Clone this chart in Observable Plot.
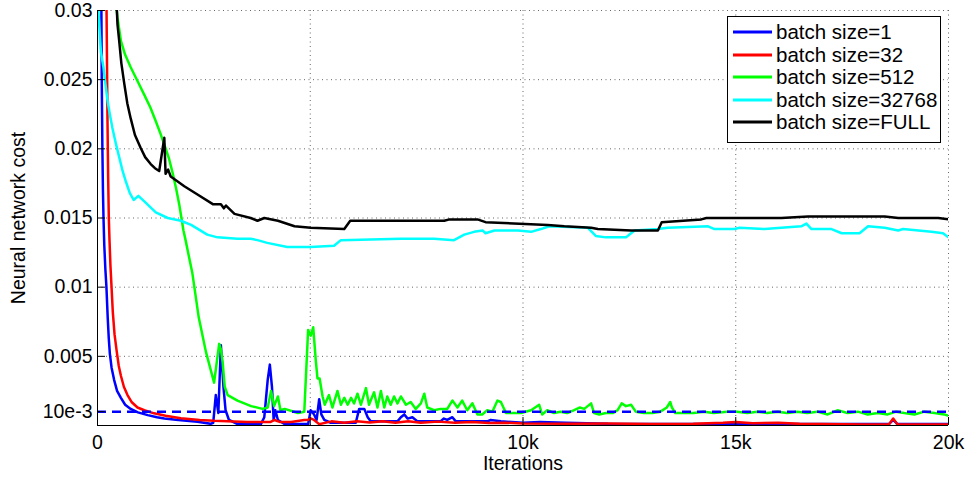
<!DOCTYPE html>
<html>
<head>
<meta charset="utf-8">
<script src="https://cdn.jsdelivr.net/npm/d3@7"></script>
<script src="https://cdn.jsdelivr.net/npm/@observablehq/plot@0.6"></script>
<style>
  body { margin: 0; background: #fff; }
  #wrap { position: relative; width: 968px; height: 479px; font-family: "Liberation Sans", Arial, Helvetica, sans-serif; }
  #legend { position: absolute; left: 727px; top: 16px; width: 214px; height: 127px; border: 1px solid #000; background: #fff; box-sizing: border-box; }
  .row { position: absolute; left: 0; height: 22px; line-height: 22px; display: flex; align-items: center; font-size: 20.5px; color: #000; white-space: nowrap; }
  .row svg { margin-left: 5px; margin-right: 4px; }
</style>
</head>
<body>
<div id="wrap"></div>
<script>
// ---- data (iterations, neural network cost) ----
const seriesNames = ["batch size=1", "batch size=32", "batch size=512", "batch size=32768", "batch size=FULL"];
const seriesColors = ["#0000ff", "#ff0000", "#00ff00", "#00ffff", "#000000"];

const bs1 = [[90,0.031],[100,0.025],[115,0.02],[128,0.017],[141,0.015],[160,0.013],[185,0.0113],[210,0.01],[240,0.0078],[265,0.0063],[290,0.0052],[330,0.0042],[390,0.0033],[460,0.0025],[550,0.002],[650,0.0015],[780,0.0012],[950,0.00095],[1180,0.00075],[1400,0.0006],[1570,0.0005],[1900,0.0004],[2350,0.00027],[2660,0.00012],[2720,0.0002],[2780,0.0022],[2840,0.0009],[2900,0.0058],[2960,0.0028],[3010,0.0011],[3090,0.0004],[3290,0.0001],[3840,0.0001],[3920,0.0006],[4000,0.0033],[4050,0.0044],[4100,0.0028],[4140,0.0004],[4180,0.0011],[4240,0.0004],[4400,0.0001],[4950,0.0001],[5010,0.0011],[5090,0.0008],[5150,0.0004],[5210,0.0019],[5260,0.0008],[5330,0.0004],[5480,0.0002],[6070,0.0002],[6150,0.0012],[6270,0.0012],[6350,0.0006],[6420,0.0003],[7050,0.0003],[7130,0.0006],[7210,0.0008],[7290,0.0005],[7400,0.0006],[7520,0.0003],[8060,0.0003],[8140,0.0005],[8220,0.0004],[8340,0.0006],[8420,0.0003],[9160,0.0003],[9240,0.0004],[9480,0.0003],[10000,0.0002],[10400,0.00025],[11000,0.0002],[12000,0.00012],[14000,0.0001],[16000,0.0001],[18600,0.0001],[18700,0.0004],[18800,0.0001],[20000,0.0001]];

const bs32 = [[210,0.031],[235,0.022],[250,0.018],[266,0.015],[282,0.0134],[305,0.0115],[330,0.01],[360,0.0082],[400,0.0066],[450,0.0054],[500,0.0043],[550,0.0036],[620,0.0028],[705,0.0022],[800,0.0017],[940,0.0013],[1100,0.0011],[1330,0.00088],[1600,0.0007],[1960,0.00052],[2400,0.0004],[2740,0.00034],[3520,0.00026],[4070,0.00026],[4160,0.0004],[4280,0.00026],[4550,0.00026],[4860,0.0004],[4940,0.0004],[5020,0.0005],[5090,0.0004],[5210,0.0001],[5500,0.0003],[5800,0.0002],[6100,0.0003],[6400,0.00022],[6700,0.0003],[7000,0.0002],[7300,0.0003],[7600,0.0002],[8000,0.00028],[8400,0.0002],[8800,0.00025],[9200,0.00018],[9600,0.0002],[10000,0.00015],[11000,0.00013],[12000,0.00015],[13000,0.00011],[14000,0.00012],[14700,0.0002],[15000,0.00026],[15400,0.00016],[16000,0.0002],[16500,0.00012],[17000,0.0001],[18000,0.00008],[18600,0.00008],[18700,0.0005],[18800,0.00008],[20000,0.00007]];

const bs512 = [[420,0.031],[470,0.0295],[550,0.0278],[650,0.0268],[780,0.0259],[940,0.0249],[1100,0.0239],[1240,0.023],[1370,0.022],[1480,0.0211],[1570,0.0203],[1680,0.0193],[1770,0.0182],[1850,0.0171],[1920,0.016],[2020,0.0141],[2070,0.0134],[2150,0.0122],[2230,0.011],[2380,0.0078],[2550,0.0053],[2740,0.0031],[2860,0.0059],[2900,0.0055],[2940,0.0046],[2990,0.0028],[3060,0.0022],[3290,0.0018],[3610,0.0014],[3880,0.0012],[4000,0.0013],[4080,0.0025],[4150,0.0014],[4240,0.0021],[4300,0.0011],[4400,0.0012],[4710,0.0009],[4860,0.001],[4950,0.0069],[5010,0.0065],[5070,0.0071],[5130,0.0047],[5170,0.0034],[5220,0.0034],[5290,0.0021],[5340,0.0015],[5440,0.0022],[5520,0.0013],[5640,0.0025],[5720,0.0015],[5800,0.002],[5880,0.0015],[5960,0.002],[6030,0.0016],[6110,0.0023],[6190,0.0015],[6310,0.0027],[6380,0.0015],[6500,0.0024],[6580,0.0013],[6660,0.0025],[6740,0.0013],[6810,0.0021],[6890,0.0015],[6970,0.0021],[7050,0.0016],[7130,0.0021],[7250,0.0015],[7360,0.0017],[7480,0.0012],[7600,0.0016],[7680,0.0023],[7750,0.0013],[7910,0.0011],[8060,0.0012],[8220,0.0012],[8340,0.0018],[8460,0.0013],[8570,0.0018],[8690,0.0011],[8810,0.0016],[8930,0.0008],[9040,0.0008],[9160,0.0011],[9280,0.001],[9400,0.0018],[9480,0.0017],[9600,0.0009],[9790,0.0009],[9950,0.0009],[10190,0.0011],[10380,0.0015],[10450,0.0008],[10570,0.0011],[10730,0.0009],[10880,0.001],[11040,0.0009],[11190,0.0011],[11330,0.0013],[11440,0.0012],[11520,0.0014],[11600,0.0016],[11670,0.0009],[11790,0.0008],[11950,0.0009],[12110,0.0009],[12220,0.0011],[12320,0.0016],[12420,0.0014],[12540,0.0015],[12650,0.001],[12840,0.0009],[13040,0.0009],[13230,0.001],[13380,0.0013],[13460,0.0017],[13500,0.0013],[13580,0.0009],[13780,0.0009],[14010,0.0009],[14250,0.001],[14480,0.0009],[14800,0.001],[15030,0.001],[15270,0.0009],[15510,0.001],[15740,0.0009],[15980,0.001],[16210,0.0009],[16450,0.001],[16680,0.0009],[16920,0.001],[17160,0.0008],[17390,0.0011],[17630,0.0009],[17870,0.001],[18100,0.0008],[18340,0.0009],[18570,0.0008],[18770,0.001],[18960,0.0009],[19200,0.0008],[19430,0.001],[19670,0.0009],[19900,0.0008],[20000,0.0007]];

const bs32768 = [[0,0.031],[80,0.027],[140,0.0259],[190,0.0246],[235,0.0235],[290,0.0225],[350,0.0215],[430,0.0204],[510,0.0194],[590,0.0184],[670,0.0176],[760,0.0168],[850,0.0163],[960,0.0166],[1100,0.0162],[1370,0.0154],[1650,0.015],[1960,0.0148],[2200,0.0145],[2580,0.0138],[2820,0.0136],[3290,0.0135],[3600,0.0135],[3760,0.0134],[3990,0.0132],[4460,0.0129],[5010,0.0129],[5560,0.013],[5720,0.0134],[7130,0.0135],[7910,0.0135],[8380,0.0134],[8620,0.0138],[8850,0.014],[9050,0.0141],[9120,0.0139],[9330,0.0141],[9880,0.0141],[10190,0.014],[10420,0.0142],[10620,0.0144],[11520,0.0143],[11710,0.0137],[11950,0.0136],[12420,0.0136],[12540,0.0139],[12620,0.0141],[13170,0.0142],[13400,0.0143],[14350,0.0144],[14500,0.0142],[14970,0.0142],[15090,0.0143],[15680,0.0142],[16070,0.0143],[16540,0.0144],[16660,0.0146],[16780,0.0142],[17250,0.0142],[17490,0.0139],[17910,0.0139],[18110,0.0144],[18500,0.0143],[18820,0.0141],[18930,0.0142],[19600,0.014],[19870,0.0139],[20000,0.0136]];

const bsFull = [[440,0.031],[470,0.029],[510,0.0278],[560,0.0262],[630,0.0247],[700,0.0233],[780,0.0222],[880,0.021],[1010,0.0201],[1120,0.0194],[1250,0.0189],[1350,0.0186],[1450,0.0184],[1570,0.0208],[1600,0.0182],[1660,0.0185],[1720,0.018],[2040,0.0173],[2350,0.0167],[2710,0.016],[2900,0.016],[2970,0.0157],[3020,0.0159],[3220,0.0153],[3600,0.015],[3760,0.0148],[3920,0.015],[4240,0.0148],[4630,0.0144],[5010,0.0143],[5800,0.0142],[5940,0.0148],[8150,0.0148],[8270,0.0149],[8930,0.0149],[9120,0.0147],[10580,0.0145],[10970,0.0144],[11600,0.0143],[11760,0.0142],[12540,0.0141],[13170,0.0141],[13260,0.0147],[14190,0.0149],[14310,0.015],[16070,0.015],[16700,0.0151],[17400,0.0151],[18500,0.0151],[18820,0.015],[19760,0.015],[20000,0.0149]];

const seriesData = [bs1, bs32, bs512, bs32768, bsFull];

const thresholdLevel = 0.001;
const xTicks = [0, 5000, 10000, 15000, 20000];
const xTickLabels = ["0", "5k", "10k", "15k", "20k"];
const yTicks = [0.001, 0.005, 0.01, 0.015, 0.02, 0.025, 0.03];
const yTickLabels = ["10e-3", "0.005", "0.01", "0.015", "0.02", "0.025", "0.03"];
const xLabel = "Iterations";
const yLabel = "Neural network cost";

// ---- chart ----
const xFmt = new Map(xTicks.map((t, i) => [t, xTickLabels[i]]));
const yFmt = new Map(yTicks.map((t, i) => [t, yTickLabels[i]]));
const gridStyle = {stroke: "#666", strokeOpacity: 1, strokeWidth: 1, strokeDasharray: "1,3.5"};

const lineMarks = seriesData.map((data, i) =>
  Plot.line(data, {x: d => d[0], y: d => d[1], stroke: seriesColors[i], strokeWidth: 2.5, clip: true})
);

const chart = Plot.plot({
  width: 968,
  height: 479,
  marginLeft: 97,
  marginRight: 20,
  marginTop: 10,
  marginBottom: 54,
  x: {domain: [0, 20000]},
  y: {domain: [0, 0.03]},
  style: {fontFamily: '"Liberation Sans", Arial, Helvetica, sans-serif', fontSize: "19.5px", color: "#000", background: "#fff"},
  marks: [
    Plot.gridX(xTicks.slice(1), gridStyle),
    Plot.gridY(yTicks.slice(1), gridStyle),
    ...lineMarks,
    Plot.ruleY([thresholdLevel], {stroke: "#0000ff", strokeWidth: 2.5, strokeDasharray: "9,6"}),
    Plot.ruleX([0], {stroke: "#000", strokeWidth: 1}),
    Plot.ruleY([0], {stroke: "#000", strokeWidth: 1}),
    Plot.axisY(yTicks, {tickSize: 0, tickPadding: 5, tickFormat: d => yFmt.get(d), label: null, fontSize: 19.5}),
    Plot.axisY(yTicks, {tickSize: -8, fill: "none", label: null}),
    Plot.axisX(xTicks, {tickSize: 0, tickPadding: 10, tickFormat: d => xFmt.get(d), label: null, fontSize: 19.5}),
    Plot.axisX(xTicks.slice(1), {tickSize: -8, fill: "none", label: null}),
    Plot.text([yLabel], {frameAnchor: "left", rotate: -90, dx: -79, textAnchor: "middle", lineAnchor: "middle", fontSize: 19.5, fill: "#000"}),
    Plot.text([xLabel], {frameAnchor: "bottom", dy: 38, textAnchor: "middle", lineAnchor: "middle", fontSize: 19.5, fill: "#000"})
  ]
});

const wrap = document.getElementById("wrap");
wrap.appendChild(chart);

// ---- legend ----
const legend = document.createElement("div");
legend.id = "legend";
seriesNames.forEach((name, i) => {
  const row = document.createElement("div");
  row.className = "row";
  row.style.top = (4 + 22.5 * i) + "px";
  row.innerHTML = `<svg width="39" height="6"><line x1="0" y1="3" x2="39" y2="3" stroke="${seriesColors[i]}" stroke-width="3"/></svg><span>${name}</span>`;
  legend.appendChild(row);
});
wrap.appendChild(legend);
</script>
</body>
</html>
